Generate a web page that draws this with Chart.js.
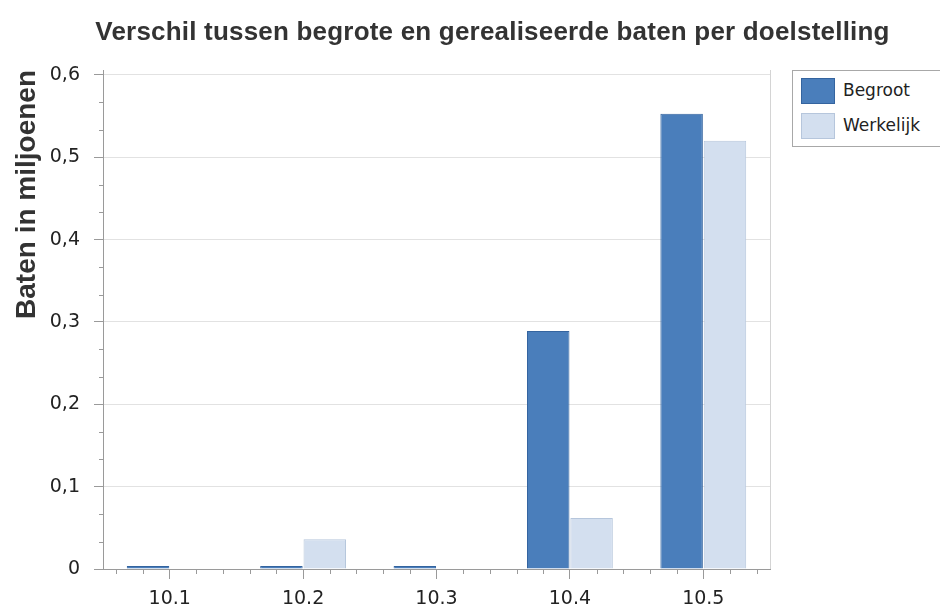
<!DOCTYPE html>
<html>
<head>
<meta charset="utf-8">
<script src="https://cdn.jsdelivr.net/npm/chart.js@4"></script>
<style>
  html, body { margin: 0; padding: 0; background: #fff; }
  #wrap { position: relative; width: 940px; height: 610px; }
  #title { position: absolute; left: 0; top: 16px; width: 985px; text-align: center; font-family: "Liberation Sans", Arial, sans-serif; font-weight: bold; font-size: 26px; letter-spacing: 0.2px; color: #333; white-space: nowrap; }
  #legend { position: absolute; left: 792px; top: 70px; width: 150px; height: 77px; border: 1px solid #a8a8a8; box-sizing: border-box; background: #fff; font-family: "DejaVu Sans", sans-serif; font-size: 17px; color: #222; }
  .item { position: absolute; left: 8px; height: 28px; line-height: 28px; }
  .sw { position: absolute; left: 0; top: 0; width: 34px; height: 26px; box-sizing: border-box; border: 1px solid; }
  .lbl { position: absolute; left: 42px; top: -2px; white-space: nowrap; }
</style>
</head>
<body>
<div id="wrap">
  <canvas id="c" width="940" height="610"></canvas>
  <div id="title">Verschil tussen begrote en gerealiseerde baten per doelstelling</div>
  <div id="legend"></div>
</div>
<script>
const categories = ["10.1", "10.2", "10.3", "10.4", "10.5"];
const seriesNames = ["Begroot", "Werkelijk"];
const begroot = [0, 0, 0, 0.289, 0.553];
const werkelijk = [0, 0.036, 0, 0.062, 0.520];
const yTicks = [0, 0.1, 0.2, 0.3, 0.4, 0.5, 0.6];

const colors = {
  begrootFill: "#4a7ebb", begrootBorder: "#34649f",
  werkFill: "#d3dfef", werkBorder: "#b6c6dc"
};

// HTML legend
const legendEl = document.getElementById("legend");
[[seriesNames[0], colors.begrootFill, colors.begrootBorder], [seriesNames[1], colors.werkFill, colors.werkBorder]].forEach((s, i) => {
  const it = document.createElement("div");
  it.className = "item";
  it.style.top = (7 + i * 35) + "px";
  it.innerHTML = '<div class="sw" style="background:' + s[1] + ';border-color:' + s[2] + '"></div><span class="lbl">' + s[0] + '</span>';
  legendEl.appendChild(it);
});

const fmt = v => v === 0 ? "0" : v.toFixed(1).replace(".", ",");

const minorTicks = {
  id: "minorTicks",
  afterDraw(chart) {
    const ctx = chart.ctx;
    const ca = chart.chartArea;
    const x = chart.scales.x, y = chart.scales.y;
    ctx.save();
    ctx.strokeStyle = "#d4d4d4";
    ctx.lineWidth = 1;
    ctx.beginPath();
    ctx.moveTo(Math.round(ca.right) + 0.5, ca.top);
    ctx.lineTo(Math.round(ca.right) + 0.5, ca.bottom);
    ctx.stroke();
    ctx.strokeStyle = "#9a9a9a";
    const cw = (ca.right - ca.left) / categories.length;
    ctx.beginPath();
    for (let i = 0; i < categories.length; i++) {
      const c = x.getPixelForValue(i);
      [-2, -1, 1, 2].forEach(k => {
        const px = Math.round(c + k * cw / 5) + 0.5;
        ctx.moveTo(px, ca.bottom);
        ctx.lineTo(px, ca.bottom + 5);
      });
    }
    for (let i = 0; i < yTicks.length - 1; i++) {
      for (let k = 1; k < 3; k++) {
        const v = yTicks[i] + (yTicks[i + 1] - yTicks[i]) * k / 3;
        const py = Math.round(y.getPixelForValue(v)) + 0.5;
        ctx.moveTo(ca.left - 4, py);
        ctx.lineTo(ca.left, py);
      }
    }
    ctx.stroke();
    ctx.restore();
  }
};

new Chart(document.getElementById("c"), {
  type: "bar",
  data: {
    labels: categories,
    datasets: [
      { label: seriesNames[0], data: begroot, backgroundColor: colors.begrootFill, borderColor: colors.begrootBorder, borderWidth: 1, minBarLength: 3, categoryPercentage: 0.65, barPercentage: 0.98 },
      { label: seriesNames[1], data: werkelijk, backgroundColor: colors.werkFill, borderColor: colors.werkBorder, borderWidth: 1, categoryPercentage: 0.65, barPercentage: 0.98 }
    ]
  },
  options: {
    responsive: false,
    animation: false,
    events: [],
    layout: { padding: { left: 0, right: 170, top: 70, bottom: 0 } },
    plugins: {
      legend: { display: false },
      tooltip: { enabled: false },
      title: { display: false }
    },
    scales: {
      x: {
        grid: { display: true, drawOnChartArea: false, offset: false, tickLength: 10, color: "#9a9a9a" },
        border: { color: "#9a9a9a" },
        ticks: { color: "#222", font: { family: "'DejaVu Sans', sans-serif", size: 19 }, padding: 9 },
        afterFit(s) { s.height = 41; }
      },
      y: {
        min: 0, max: 0.606,
        afterBuildTicks(s) { s.ticks = yTicks.map(v => ({ value: v })); },
        grid: { color: "#e2e2e2", tickColor: "#9a9a9a", tickLength: 9 },
        border: { color: "#9a9a9a" },
        ticks: { color: "#222", font: { family: "'DejaVu Sans', sans-serif", size: 19 }, padding: 14, callback: v => fmt(v) },
        title: {
          display: true, text: "Baten in miljoenen", align: "end",
          color: "#333",
          font: { family: "'Liberation Sans', Arial, sans-serif", size: 28, weight: "bold" },
          padding: { top: 10, bottom: 0 }
        },
        afterFit(s) { s.width = 103; }
      }
    }
  },
  plugins: [minorTicks]
});
</script>
</body>
</html>
